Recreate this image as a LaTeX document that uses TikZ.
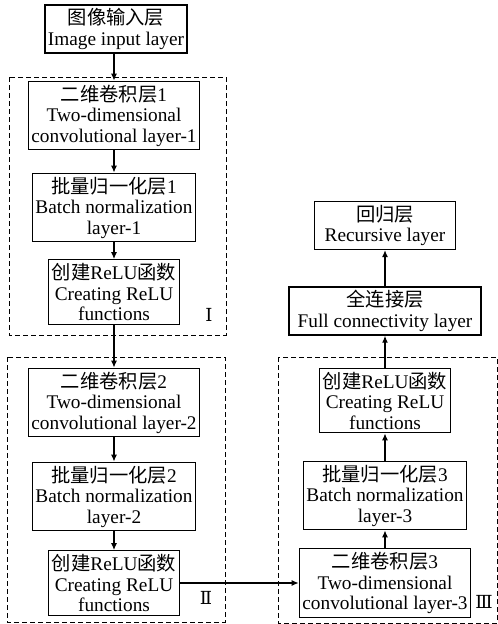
\documentclass[tikz,border=0pt]{standalone}
\usepackage{fontspec}
\setmainfont{Liberation Serif}
\newfontfamily\cjkfont{Noto Sans CJK SC}
\newfontfamily\romfont{DejaVu Serif}
\usepackage{tikz}
\usetikzlibrary{arrows.meta, positioning}
\newcommand{\zhtext}[1]{{\cjkfont #1}}
\tikzset{
  layer/.style={rectangle, draw=black, line width=1.3pt, fill=white,
                align=center, inner xsep=3pt, inner ysep=3.5pt,
                font=\fontsize{19.3}{20.5}\selectfont},
  arrow/.style={-{Latex[length=7pt,width=6pt]}, line width=1.3pt, draw=black},
  groupbox/.style={draw=black, line width=1pt, dash pattern=on 5pt off 3pt},
  grouplabel/.style={font=\romfont\fontsize{18}{20}\selectfont},
}

\begin{document}
\begin{tikzpicture}[x=1pt, y=-1pt]

  \useasboundingbox (0,0) rectangle (498,624);

  % left column
  \node[layer, minimum width=142pt] (input) at (116,29) {\zhtext{图像输入层}\\Image input layer};
  \node[layer] (conv1) at (114,115.5) {\zhtext{二维卷积层}1\\Two-dimensional\\convolutional layer-1};
  \node[layer] (bn1)   at (114,207.5) {\zhtext{批量归一化层}1\\Batch normalization\\layer-1};
  \node[layer] (relu1) at (114,292)   {\zhtext{创建}ReLU\zhtext{函数}\\Creating ReLU\\functions};
  \node[layer] (conv2) at (114,402.5) {\zhtext{二维卷积层}2\\Two-dimensional\\convolutional layer-2};
  \node[layer] (bn2)   at (114,496.5) {\zhtext{批量归一化层}2\\Batch normalization\\layer-2};
  \node[layer] (relu2) at (114,583)   {\zhtext{创建}ReLU\zhtext{函数}\\Creating ReLU\\functions};

  % right column
  \node[layer] (conv3) at (385,583)   {\zhtext{二维卷积层}3\\Two-dimensional\\convolutional layer-3};
  \node[layer] (bn3)   at (385,495.5) {\zhtext{批量归一化层}3\\Batch normalization\\layer-3};
  \node[layer] (relu3) at (385,400.5) {\zhtext{创建}ReLU\zhtext{函数}\\Creating ReLU\\functions};
  \node[layer, minimum width=192pt] (fc)  at (385,311)   {\zhtext{全连接层}\\Full connectivity layer};
  \node[layer, minimum width=141pt] (rec) at (385,225.5) {\zhtext{回归层}\\Recursive layer};

  % dashed groups
  \draw[groupbox] (9,77) rectangle (226,335);
  \draw[groupbox] (7,357) rectangle (225,622);
  \draw[groupbox] (278,357) rectangle (497,623);
  \node[grouplabel] (g1) at (209,315) {Ⅰ};
  \node[grouplabel] (g2) at (206,598) {Ⅱ};
  \node[grouplabel] (g3) at (484,602) {Ⅲ};

  \foreach \a/\b in {
    conv1/bn1, bn1/relu1, relu1/conv2, conv2/bn2, bn2/relu2,
    relu2/conv3, conv3/bn3, bn3/relu3, relu3/fc, fc/rec}
    \draw[arrow] (\a) -- (\b);
  \draw[arrow] (input.south -| conv1.north) -- (conv1.north);

\end{tikzpicture}
\end{document}
